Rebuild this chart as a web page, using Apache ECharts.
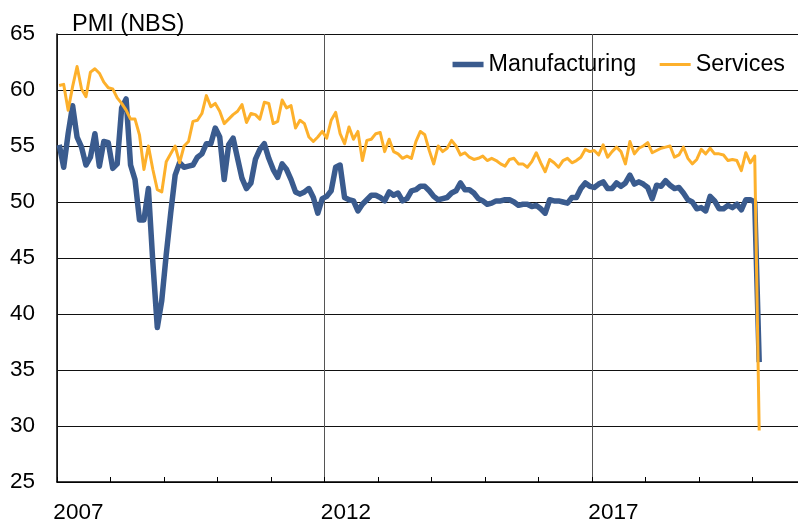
<!DOCTYPE html>
<html><head><meta charset="utf-8">
<script src="https://cdn.jsdelivr.net/npm/echarts@6/dist/echarts.min.js"></script>
<style>html,body{margin:0;padding:0;background:#fff}#c{width:798px;height:522px}</style>
</head><body><div id="c"></div>
<script>
const startYear = 2007;
// Monthly NBS PMI, Jan 2007 - Feb 2020
const manufacturing = [
  55.1, 53.1, 56.1, 58.6, 55.8, 54.9, 53.3, 54.0, 56.1, 53.2, 55.4, 55.3,
  53.0, 53.4, 58.4, 59.2, 53.3, 52.0, 48.4, 48.4, 51.2, 44.6, 38.8, 41.2,
  45.3, 49.0, 52.4, 53.5, 53.1, 53.2, 53.3, 54.0, 54.3, 55.2, 55.2, 56.6,
  55.8, 52.0, 55.1, 55.7, 53.9, 52.1, 51.2, 51.7, 53.8, 54.7, 55.2, 53.9,
  52.9, 52.2, 53.4, 52.9, 52.0, 50.9, 50.7, 50.9, 51.2, 50.4, 49.0, 50.3,
  50.5, 51.0, 53.1, 53.3, 50.4, 50.2, 50.1, 49.2, 49.8, 50.2, 50.6, 50.6,
  50.4, 50.1, 50.9, 50.6, 50.8, 50.1, 50.3, 51.0, 51.1, 51.4, 51.4, 51.0,
  50.5, 50.2, 50.3, 50.4, 50.8, 51.0, 51.7, 51.1, 51.1, 50.8, 50.3, 50.1,
  49.8, 49.9, 50.1, 50.1, 50.2, 50.2, 50.0, 49.7, 49.8, 49.8, 49.6, 49.7,
  49.4, 49.0, 50.2, 50.1, 50.1, 50.0, 49.9, 50.4, 50.4, 51.2, 51.7, 51.4,
  51.3, 51.6, 51.8, 51.2, 51.2, 51.7, 51.4, 51.7, 52.4, 51.6, 51.8, 51.6,
  51.3, 50.3, 51.5, 51.4, 51.9, 51.5, 51.2, 51.3, 50.8, 50.2, 50.0, 49.4,
  49.5, 49.2, 50.5, 50.1, 49.4, 49.4, 49.7, 49.5, 49.8, 49.3, 50.2, 50.2,
  50.0, 35.7
];
const services = [
  60.4, 60.5, 58.2, 60.3, 62.1, 60.1, 59.4, 61.6, 61.9, 61.5, 60.7, 60.2,
  60.1, 59.3, 58.8, 58.2, 57.4, 57.4, 56.0, 52.9, 55.0, 52.9, 51.1, 50.9,
  53.6, 54.3, 55.0, 53.5, 55.0, 55.4, 57.2, 57.3, 57.9, 59.5, 58.5, 58.8,
  58.1, 57.0, 57.4, 57.8, 58.1, 58.7, 57.1, 57.9, 57.8, 57.4, 58.9, 58.8,
  57.0, 57.2, 59.1, 58.4, 58.6, 56.6, 57.3, 57.0, 55.8, 55.4, 55.8, 56.3,
  55.7, 57.3, 58.0, 56.1, 55.2, 56.7, 55.6, 56.3, 53.7, 55.5, 55.6, 56.1,
  56.2, 54.5, 55.6, 54.5, 54.3, 53.9, 54.1, 53.9, 55.4, 56.3, 56.0, 54.6,
  53.4, 55.0, 54.5, 54.8, 55.5, 55.0, 54.2, 54.4, 54.0, 53.8, 53.9, 54.1,
  53.7, 53.9, 53.7, 53.4, 53.2, 53.8, 53.9, 53.4, 53.4, 53.1, 53.6, 54.4,
  53.5, 52.7, 53.8, 53.5, 53.1, 53.7, 53.9, 53.5, 53.7, 54.0, 54.7, 54.5,
  54.6, 54.2, 55.1, 54.0, 54.5, 54.9, 54.5, 53.4, 55.4, 54.3, 54.8, 55.0,
  55.3, 54.4, 54.6, 54.8, 54.9, 55.0, 54.0, 54.2, 54.9, 53.9, 53.4, 53.8,
  54.7, 54.3, 54.8, 54.3, 54.3, 54.2, 53.7, 53.8, 53.7, 52.8, 54.4, 53.5,
  54.1, 29.6
];
const xLabelYears = [2007, 2012, 2017];
const yMin = 25, yMax = 65, yStep = 5;

// month positions (centred within each month, as in the source chart)
const monthPos = i => startYear + (i + 0.5) / 12;
const mfgData = manufacturing.map((v, i) => [monthPos(i), v]);
const srvData = services.map((v, i) => [monthPos(i), v]);

const FONT = '"Liberation Sans", Arial, sans-serif';
const BLUE = '#3A5B8E', ORANGE = '#FDB02B';
const chart = echarts.init(document.getElementById('c'), null, {renderer: 'canvas'});
chart.setOption({
  animation: false,
  backgroundColor: '#fff',
  title: {
    text: 'PMI (NBS)', left: 72, top: 13, padding: 0,
    textStyle: {fontFamily: FONT, fontSize: 23.5, fontWeight: 'normal', color: '#000'}
  },
  legend: {
    right: 13, top: 53, padding: 0, itemWidth: 31, itemHeight: 14, itemGap: 22,
    itemStyle: {opacity: 0},
    data: [
      {name: 'Manufacturing', lineStyle: {width: 5.5, color: BLUE}},
      {name: 'Services', lineStyle: {width: 3, color: ORANGE}}
    ],
    textStyle: {fontFamily: FONT, fontSize: 23.3, color: '#000'}
  },
  grid: {left: 57, top: 34, bottom: 40, width: 749, outerBoundsMode: 'none', containLabel: false},
  xAxis: [{
    type: 'value', min: startYear, max: 2021, interval: 1,
    axisLine: {show: true, onZero: false, lineStyle: {color: '#000', width: 1.5}},
    axisTick: {show: true, inside: true, length: 5, lineStyle: {color: '#000', width: 1}},
    axisLabel: {
      customValues: xLabelYears.map(y => y + 0.4),
      formatter: v => String(Math.floor(v)),
      fontFamily: FONT, fontSize: 22.5, color: '#000', margin: 19
    },
    splitLine: {show: false}
  }, {
    type: 'value', min: startYear, max: 2021, interval: 5, position: 'top',
    axisLine: {show: false}, axisTick: {show: false}, axisLabel: {show: false},
    splitLine: {show: true, lineStyle: {color: '#555', width: 1}}
  }],
  yAxis: {
    type: 'value', min: yMin, max: yMax, interval: yStep,
    axisLine: {show: true, lineStyle: {color: '#000', width: 1.5}},
    axisTick: {show: false},
    axisLabel: {fontFamily: FONT, fontSize: 22.5, color: '#000', margin: 22},
    splitLine: {show: true, lineStyle: {color: '#111', width: 1}}
  },
  series: [{
    name: 'Manufacturing', type: 'line', xAxisIndex: 0, data: mfgData,
    symbol: 'none', lineStyle: {color: BLUE, width: 5.5, join: 'round'},
    itemStyle: {color: BLUE}
  }, {
    name: 'Services', type: 'line', xAxisIndex: 0, data: srvData,
    symbol: 'none', lineStyle: {color: ORANGE, width: 3, join: 'round'},
    itemStyle: {color: ORANGE}
  }]
});
</script></body></html>
